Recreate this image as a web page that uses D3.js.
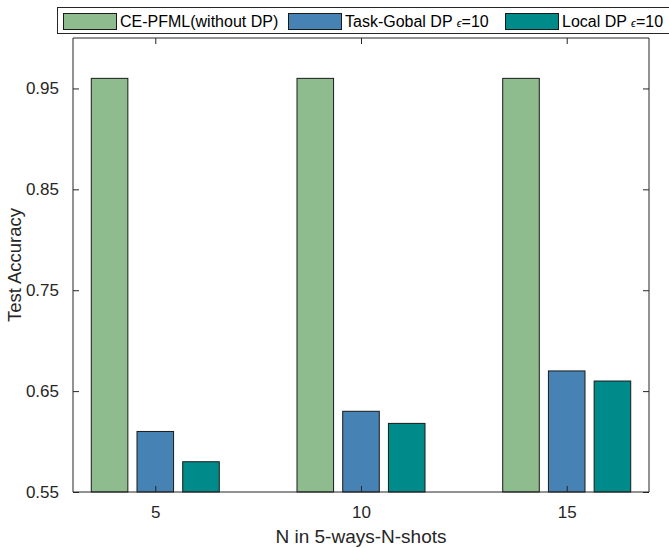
<!DOCTYPE html>
<html>
<head>
<meta charset="utf-8">
<script src="https://cdn.jsdelivr.net/npm/d3@7"></script>
<style>
  html, body { margin: 0; padding: 0; background: #fff; }
  svg { display: block; font-family: "Liberation Sans", Arial, Helvetica, sans-serif; }
</style>
</head>
<body>
<svg id="chart" width="669" height="548"></svg>
<script>
// Shot counts on the x axis
const shots = [5, 10, 15];
// Test accuracy for each method
const cePfml = [0.96, 0.96, 0.96];
const taskGlobalDP = [0.61, 0.63, 0.67];
const localDP = [0.58, 0.618, 0.66];
// Axis ticks
const yTicks = [0.55, 0.65, 0.75, 0.85, 0.95];
const xTicks = [5, 10, 15];

const seriesNames = ["CE-PFML(without DP)", "Task-Gobal DP ", "Local DP "];
const seriesColors = ["#8FBC8F", "#4682B4", "#008B8B"];
const seriesValues = [cePfml, taskGlobalDP, localDP];

const svg = d3.select("#chart");
const plotL = 73, plotR = 649, plotT = 38, plotB = 492;
const axisColor = "#262626";

const x = d3.scaleLinear().domain([3, 17]).range([plotL, plotR]);
const y = d3.scaleLinear().domain([0.55, 1.0]).range([plotB, plotT]);

// Grouped bar geometry: group spacing 5, three bars per group
const slot = 5 * (2 / 3) / 3;        // distance between bar centres, data units
const barW = 0.8 * slot;              // bar width, data units

const rows = [];
seriesValues.forEach((vals, s) => {
  vals.forEach((v, i) => rows.push({ s, x: shots[i] + (s - 1) * slot, v }));
});

svg.append("g").selectAll("rect")
  .data(rows)
  .join("rect")
  .attr("x", d => x(d.x - barW / 2))
  .attr("width", d => x(d.x + barW / 2) - x(d.x - barW / 2))
  .attr("y", d => y(d.v))
  .attr("height", d => y(0.55) - y(d.v))
  .attr("fill", d => seriesColors[d.s])
  .attr("stroke", "#1a1a1a")
  .attr("stroke-width", 1);

// Axes with inward ticks on all four sides
const tickLen = 6;
const fmtY = d3.format(".2f");

const gBottom = svg.append("g").attr("transform", `translate(0,${plotB})`)
  .call(d3.axisBottom(x).tickValues(xTicks).tickSize(-tickLen).tickPadding(14).tickFormat(d3.format("d")));
const gTop = svg.append("g").attr("transform", `translate(0,${plotT})`)
  .call(d3.axisTop(x).tickValues(xTicks).tickSize(-tickLen).tickFormat(""));
const gLeft = svg.append("g").attr("transform", `translate(${plotL},0)`)
  .call(d3.axisLeft(y).tickValues(yTicks).tickSize(-tickLen).tickPadding(14).tickFormat(fmtY));
const gRight = svg.append("g").attr("transform", `translate(${plotR},0)`)
  .call(d3.axisRight(y).tickValues(yTicks).tickSize(-tickLen).tickFormat(""));

[gBottom, gTop, gLeft, gRight].forEach(g => {
  g.select(".domain").attr("stroke", axisColor).attr("stroke-width", 1)
    .attr("d", g === gBottom || g === gTop ? `M${plotL},0H${plotR}` : `M0,${plotT}V${plotB}`);
  g.selectAll(".tick line").attr("stroke", axisColor).attr("stroke-width", 1);
  g.selectAll(".tick text").attr("fill", axisColor)
    .style("font-family", "'Liberation Sans', Arial, sans-serif").style("font-size", "17px");
});

// Axis titles
svg.append("text")
  .attr("x", (plotL + plotR) / 2).attr("y", 543)
  .attr("text-anchor", "middle")
  .attr("fill", axisColor).style("font-size", "19px")
  .text("N in 5-ways-N-shots");

svg.append("text")
  .attr("transform", `translate(21,${(plotT + plotB) / 2}) rotate(-90)`)
  .attr("text-anchor", "middle")
  .attr("fill", axisColor).style("font-size", "18.5px")
  .text("Test Accuracy");

// Legend
const legend = svg.append("g");
legend.append("rect")
  .attr("x", 57.5).attr("y", 7.5).attr("width", 620).attr("height", 26)
  .attr("fill", "#fff").attr("stroke", axisColor).attr("stroke-width", 1);

const swatchX = [63, 288, 505];
seriesNames.forEach((name, i) => {
  legend.append("rect")
    .attr("x", swatchX[i] + 0.5).attr("y", 13.5).attr("width", 53).attr("height", 16)
    .attr("fill", seriesColors[i]).attr("stroke", "#1a1a1a").attr("stroke-width", 1);
  const t = legend.append("text")
    .attr("x", swatchX[i] + 57).attr("y", 27)
    .attr("fill", "#000").style("font-size", "16px")
    .text(name);
  if (i > 0) {
    t.append("tspan").style("font-size", "11px").style("font-style", "italic").text("\u03F5");
    t.append("tspan").text("=10");
  }
});
</script>
</body>
</html>
